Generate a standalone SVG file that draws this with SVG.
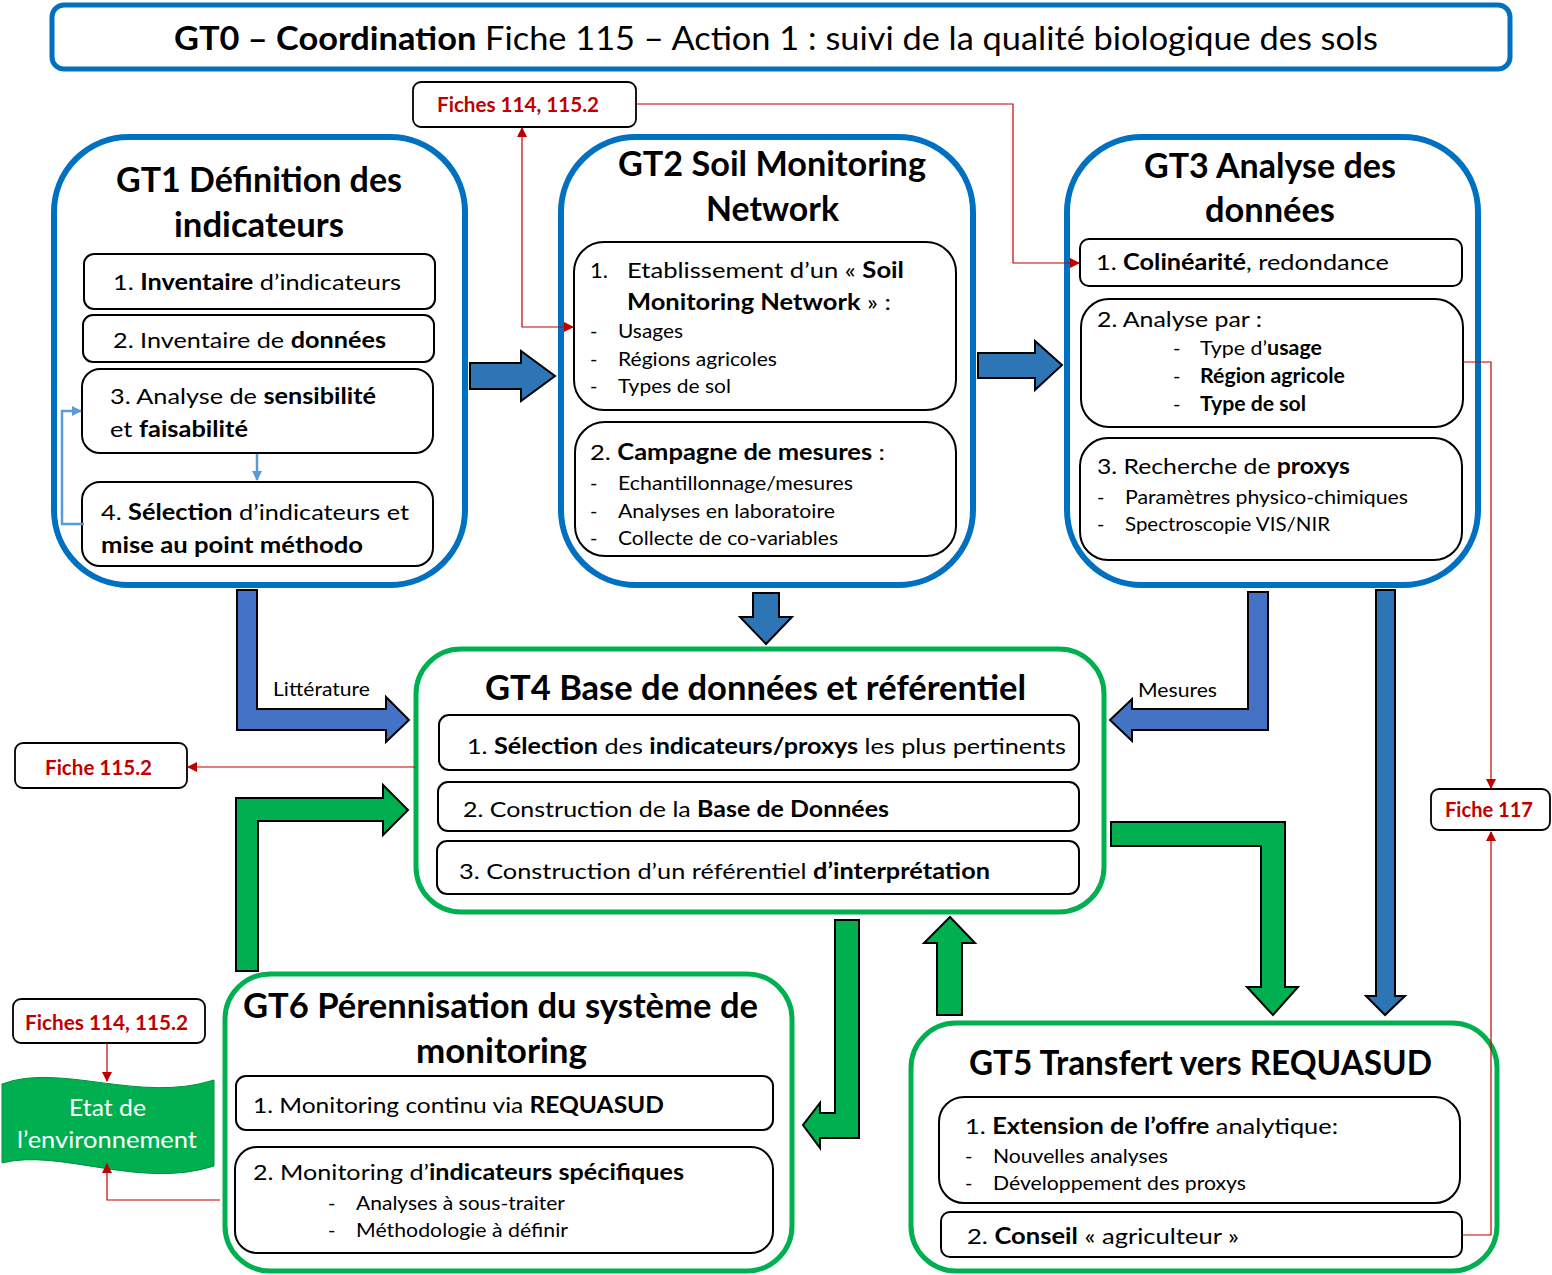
<svg xmlns="http://www.w3.org/2000/svg" width="1552" height="1275" viewBox="0 0 1552 1275">
<style>
text{font-family:"Lato","Noto Sans",sans-serif;fill:#000}
.b{font-weight:bold}
.gt{font-size:34px;font-weight:bold}
.t{font-size:22px}
.s{font-size:20px}
.red{fill:#C00000;font-weight:bold;font-size:20px}
.cb{fill:#fff;stroke:#0070C0;stroke-width:6}
.cg{fill:#fff;stroke:#00B050;stroke-width:5}
.sb{fill:#fff;stroke:#000;stroke-width:2}
.fb{fill:#fff;stroke:#000;stroke-width:1.8}
.ab{fill:#2E75B6;stroke:#000;stroke-width:2}
.ab2{fill:#4472C4;stroke:#000;stroke-width:2}
.ag{fill:#00B050;stroke:#000;stroke-width:2}
.rl{fill:none;stroke:#C00000;stroke-width:1.2}
.ll{fill:none;stroke:#5B9BD5;stroke-width:2.5}
.w{fill:#fff}
</style>
<defs>
<marker id="ra" viewBox="0 0 10 10" refX="9" refY="5" markerWidth="10" markerHeight="10" markerUnits="userSpaceOnUse" orient="auto-start-reverse"><path d="M0,0 L10,5 L0,10 Z" fill="#C00000"/></marker>
<marker id="la" viewBox="0 0 10 10" refX="9" refY="5" markerWidth="10" markerHeight="10" markerUnits="userSpaceOnUse" orient="auto"><path d="M0,0 L10,5 L0,10 Z" fill="#5B9BD5"/></marker>
</defs>

<g id="title">
<rect x="52" y="5" width="1458" height="64" rx="12" fill="#fff" stroke="#0070C0" stroke-width="5"/>
<text x="174" y="50" font-size="32" textLength="1204" lengthAdjust="spacingAndGlyphs"><tspan class="b">GT0 – Coordination</tspan> Fiche 115 – Action 1 : suivi de la qualité biologique des sols</text>
</g>

<g id="fiches-top">
<rect class="fb" x="413" y="82" width="223" height="45" rx="8"/>
<text class="red" x="437" y="112" textLength="162" lengthAdjust="spacingAndGlyphs">Fiches 114, 115.2</text>
</g>

<g id="gt1">
<rect class="cb" x="54" y="137" width="411" height="448" rx="75"/>
<text class="gt" x="116" y="192" textLength="286" lengthAdjust="spacingAndGlyphs">GT1 Définition des</text>
<text class="gt" x="174" y="237" textLength="170" lengthAdjust="spacingAndGlyphs">indicateurs</text>
<rect class="sb" x="84" y="254" width="351" height="55" rx="10"/>
<text class="t" x="113" y="290" textLength="288" lengthAdjust="spacingAndGlyphs">1. <tspan class="b">Inventaire</tspan> d’indicateurs</text>
<rect class="sb" x="83" y="315" width="351" height="47" rx="10"/>
<text class="t" x="113" y="348" textLength="273" lengthAdjust="spacingAndGlyphs">2. Inventaire de <tspan class="b">données</tspan></text>
<rect class="sb" x="82" y="369" width="351" height="84" rx="18"/>
<text class="t" x="110" y="404" textLength="266" lengthAdjust="spacingAndGlyphs">3. Analyse de <tspan class="b">sensibilité</tspan></text>
<text class="t" x="110" y="437" textLength="138" lengthAdjust="spacingAndGlyphs">et <tspan class="b">faisabilité</tspan></text>
<rect class="sb" x="82" y="482" width="351" height="84" rx="18"/>
<text class="t" x="101" y="520" textLength="308" lengthAdjust="spacingAndGlyphs">4. <tspan class="b">Sélection</tspan> d’indicateurs et</text>
<text class="t b" x="101" y="553" textLength="262" lengthAdjust="spacingAndGlyphs">mise au point méthodo</text>
<path class="ll" d="M257,454 V480" marker-end="url(#la)"/>
<path class="ll" d="M84,524 H62 V411 H81" marker-end="url(#la)"/>
</g>

<g id="gt2">
<rect class="cb" x="561" y="137" width="412" height="448" rx="75"/>
<text class="gt" x="618" y="176" textLength="308" lengthAdjust="spacingAndGlyphs">GT2 Soil Monitoring</text>
<text class="gt" x="706" y="221" textLength="133" lengthAdjust="spacingAndGlyphs">Network</text>
<rect class="sb" x="574" y="242" width="382" height="168" rx="30"/>
<text class="t" x="590" y="278">1.</text>
<text class="t" x="627" y="278" textLength="277" lengthAdjust="spacingAndGlyphs">Etablissement d’un « <tspan class="b">Soil</tspan></text>
<text class="t" x="627" y="310" textLength="264" lengthAdjust="spacingAndGlyphs"><tspan class="b">Monitoring Network</tspan> » :</text>
<text class="s" x="590" y="338">-</text><text class="s" x="618" y="338" textLength="65" lengthAdjust="spacingAndGlyphs">Usages</text>
<text class="s" x="590" y="366">-</text><text class="s" x="618" y="366" textLength="159" lengthAdjust="spacingAndGlyphs">Régions agricoles</text>
<text class="s" x="590" y="393">-</text><text class="s" x="618" y="393" textLength="113" lengthAdjust="spacingAndGlyphs">Types de sol</text>
<rect class="sb" x="575" y="422" width="381" height="134" rx="30"/>
<text class="t" x="590" y="460" textLength="295" lengthAdjust="spacingAndGlyphs">2. <tspan class="b">Campagne de mesures</tspan> :</text>
<text class="s" x="590" y="490">-</text><text class="s" x="618" y="490" textLength="235" lengthAdjust="spacingAndGlyphs">Echantillonnage/mesures</text>
<text class="s" x="590" y="518">-</text><text class="s" x="618" y="518" textLength="217" lengthAdjust="spacingAndGlyphs">Analyses en laboratoire</text>
<text class="s" x="590" y="545">-</text><text class="s" x="618" y="545" textLength="220" lengthAdjust="spacingAndGlyphs">Collecte de co-variables</text>
</g>

<g id="gt3">
<rect class="cb" x="1067" y="137" width="411" height="448" rx="75"/>
<text class="gt" x="1144" y="178" textLength="252" lengthAdjust="spacingAndGlyphs">GT3 Analyse des</text>
<text class="gt" x="1205" y="222" textLength="130" lengthAdjust="spacingAndGlyphs">données</text>
<rect class="sb" x="1080" y="239" width="382" height="47" rx="9"/>
<text class="t" x="1096" y="270" textLength="293" lengthAdjust="spacingAndGlyphs">1. <tspan class="b">Colinéarité</tspan>, redondance</text>
<rect class="sb" x="1081" y="299" width="382" height="128" rx="28"/>
<text class="t" x="1097" y="327" textLength="165" lengthAdjust="spacingAndGlyphs">2. Analyse par :</text>
<text class="s" x="1173" y="355">-</text><text class="s" x="1200" y="355" textLength="122" lengthAdjust="spacingAndGlyphs">Type d’<tspan class="b">usage</tspan></text>
<text class="s" x="1173" y="383">-</text><text class="s b" x="1200" y="383" textLength="145" lengthAdjust="spacingAndGlyphs">Région agricole</text>
<text class="s" x="1173" y="411">-</text><text class="s b" x="1200" y="411" textLength="106" lengthAdjust="spacingAndGlyphs">Type de sol</text>
<rect class="sb" x="1080" y="438" width="382" height="122" rx="28"/>
<text class="t" x="1097" y="474" textLength="253" lengthAdjust="spacingAndGlyphs">3. Recherche de <tspan class="b">proxys</tspan></text>
<text class="s" x="1097" y="504">-</text><text class="s" x="1125" y="504" textLength="283" lengthAdjust="spacingAndGlyphs">Paramètres physico-chimiques</text>
<text class="s" x="1097" y="531">-</text><text class="s" x="1125" y="531" textLength="205" lengthAdjust="spacingAndGlyphs">Spectroscopie VIS/NIR</text>
</g>

<g id="gt4">
<rect class="cg" x="416" y="649" width="688" height="263" rx="45"/>
<text class="gt" x="485" y="700" textLength="541" lengthAdjust="spacingAndGlyphs">GT4 Base de données et référentiel</text>
<rect class="sb" x="439" y="715" width="640" height="55" rx="10"/>
<text class="t" x="467" y="754" textLength="599" lengthAdjust="spacingAndGlyphs">1. <tspan class="b">Sélection</tspan> des <tspan class="b">indicateurs/proxys</tspan> les plus pertinents</text>
<rect class="sb" x="438" y="782" width="641" height="49" rx="10"/>
<text class="t" x="463" y="817" textLength="426" lengthAdjust="spacingAndGlyphs">2. Construction de la <tspan class="b">Base de Données</tspan></text>
<rect class="sb" x="437" y="841" width="642" height="53" rx="10"/>
<text class="t" x="459" y="879" textLength="531" lengthAdjust="spacingAndGlyphs">3. Construction d’un référentiel <tspan class="b">d’interprétation</tspan></text>
</g>

<g id="fiche-115-2">
<rect class="fb" x="15" y="743" width="172" height="45" rx="8"/>
<text class="red" x="45" y="775" textLength="107" lengthAdjust="spacingAndGlyphs">Fiche 115.2</text>
</g>

<g id="fiche-117">
<rect class="fb" x="1431" y="789" width="119" height="41" rx="8"/>
<text class="red" x="1445" y="817" textLength="88" lengthAdjust="spacingAndGlyphs">Fiche 117</text>
</g>

<g id="gt6">
<rect class="cg" x="225" y="974" width="567" height="297" rx="45"/>
<text class="gt" x="243" y="1018" textLength="515" lengthAdjust="spacingAndGlyphs">GT6 Pérennisation du système de</text>
<text class="gt" x="416" y="1063" textLength="171" lengthAdjust="spacingAndGlyphs">monitoring</text>
<rect class="sb" x="236" y="1076" width="537" height="54" rx="10"/>
<text class="t" x="253" y="1113" textLength="411" lengthAdjust="spacingAndGlyphs">1. Monitoring continu via <tspan class="b">REQUASUD</tspan></text>
<rect class="sb" x="235" y="1147" width="538" height="106" rx="22"/>
<text class="t" x="253" y="1180" textLength="431" lengthAdjust="spacingAndGlyphs">2. Monitoring d’<tspan class="b">indicateurs spécifiques</tspan></text>
<text class="s" x="328" y="1210">-</text><text class="s" x="356" y="1210" textLength="209" lengthAdjust="spacingAndGlyphs">Analyses à sous-traiter</text>
<text class="s" x="328" y="1237">-</text><text class="s" x="356" y="1237" textLength="212" lengthAdjust="spacingAndGlyphs">Méthodologie à définir</text>
</g>

<g id="fiches-bottom">
<rect class="fb" x="13" y="999" width="192" height="44" rx="8"/>
<text class="red" x="25" y="1030" textLength="163" lengthAdjust="spacingAndGlyphs">Fiches 114, 115.2</text>
</g>

<g id="etat">
<path d="M2,1084 C60,1062 140,1104 214,1080 L214,1166 C140,1190 60,1148 2,1163 Z" fill="#00B050" stroke="#00903f" stroke-width="1"/>
<text class="w" x="69" y="1116" font-size="23" style="fill:#fff" textLength="77" lengthAdjust="spacingAndGlyphs">Etat de</text>
<text class="w" x="17" y="1148" font-size="23" style="fill:#fff" textLength="180" lengthAdjust="spacingAndGlyphs">l’environnement</text>
</g>

<g id="gt5">
<rect class="cg" x="911" y="1023" width="586" height="248" rx="45"/>
<text class="gt" x="969" y="1075" textLength="463" lengthAdjust="spacingAndGlyphs">GT5 Transfert vers REQUASUD</text>
<rect class="sb" x="939" y="1097" width="521" height="106" rx="25"/>
<text class="t" x="965" y="1134" textLength="373" lengthAdjust="spacingAndGlyphs">1. <tspan class="b">Extension de l’offre</tspan> analytique:</text>
<text class="s" x="965" y="1163">-</text><text class="s" x="993" y="1163" textLength="175" lengthAdjust="spacingAndGlyphs">Nouvelles analyses</text>
<text class="s" x="965" y="1190">-</text><text class="s" x="993" y="1190" textLength="253" lengthAdjust="spacingAndGlyphs">Développement des proxys</text>
<rect class="sb" x="941" y="1212" width="521" height="45" rx="9"/>
<text class="t" x="967" y="1244" textLength="272" lengthAdjust="spacingAndGlyphs">2. <tspan class="b">Conseil</tspan> « agriculteur »</text>
</g>

<g id="connectors">
<polygon class="ab" points="470,363 521,363 521,351 555,376 521,401 521,389 470,389"/>
<polygon class="ab" points="978,353 1035,353 1035,341 1062,365 1035,390 1035,378 978,378"/>
<polygon class="ab" points="753,593 779,593 779,617 792,617 766,644 740,617 753,617"/>
<polygon class="ab2" points="237,590 257,590 257,709 386,709 386,697 409,720 386,742 386,730 237,730"/>
<polygon class="ab2" points="1248,592 1268,592 1268,730 1132,730 1132,741 1110,720 1132,699 1132,709 1248,709"/>
<polygon class="ab" points="1376,590 1395,590 1395,996 1405,996 1385,1015 1366,996 1376,996"/>
<polygon class="ag" points="236,971 236,798 383,798 383,785 408,810 383,835 383,821 258,821 258,971"/>
<polygon class="ag" points="1111,822 1285,822 1285,987 1298,987 1273,1015 1247,987 1261,987 1261,846 1111,846"/>
<polygon class="ag" points="835,920 859,920 859,1138 820,1138 820,1148 803,1125 820,1103 820,1113 835,1113"/>
<polygon class="ag" points="937,1015 937,943 924,943 950,917 975,943 962,943 962,1015"/>
<path class="rl" d="M636,104 H1013 V263 H1079" marker-end="url(#ra)"/>
<path class="rl" d="M522,128 V327 H573" marker-start="url(#ra)" marker-end="url(#ra)"/>
<path class="rl" d="M1463,362 H1491 V788" marker-end="url(#ra)"/>
<path class="rl" d="M1463,1235 H1491 V832" marker-end="url(#ra)"/>
<path class="rl" d="M415,767 H188" marker-end="url(#ra)"/>
<path class="rl" d="M107,1043 V1081" marker-end="url(#ra)"/>
<path class="rl" d="M220,1200 H107 V1164" marker-end="url(#ra)"/>
<text x="273" y="696" font-size="19" textLength="97" lengthAdjust="spacingAndGlyphs">Littérature</text>
<text x="1138" y="697" font-size="19" textLength="79" lengthAdjust="spacingAndGlyphs">Mesures</text>
</g>
</svg>
